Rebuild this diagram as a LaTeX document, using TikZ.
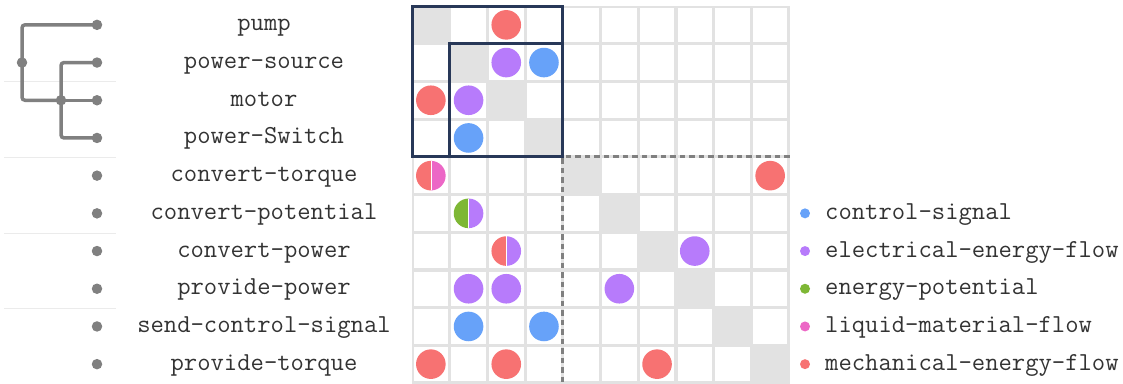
\documentclass[tikz,border=0pt]{standalone}
\usepackage{fontspec}
\definecolor{cred}{HTML}{F77272}
\definecolor{cpur}{HTML}{B77BFB}
\definecolor{cblue}{HTML}{67A2F9}
\definecolor{cgreen}{HTML}{7EB735}
\definecolor{cpink}{HTML}{EC67C6}
\definecolor{navy}{HTML}{283858}
\definecolor{gridgray}{HTML}{E2E2E2}
\definecolor{treegray}{HTML}{808080}
\definecolor{txt}{HTML}{333333}
\newcommand{\cx}[1]{412+37.7*#1+18.85}
\newcommand{\cy}[1]{6+37.7*#1+18.85}
\newcommand{\fdot}[3]{\fill[#3] ({\cx{#2}},{\cy{#1}}) circle[radius=14.8];}
\newcommand{\hdot}[4]{%
  \begin{scope}\clip ({\cx{#2}-16},{\cy{#1}-16}) rectangle ({\cx{#2}},{\cy{#1}+16});
  \fill[#3] ({\cx{#2}},{\cy{#1}}) circle[radius=14.8];\end{scope}
  \begin{scope}\clip ({\cx{#2}},{\cy{#1}-16}) rectangle ({\cx{#2}+16},{\cy{#1}+16});
  \fill[#4] ({\cx{#2}},{\cy{#1}}) circle[radius=14.8];\end{scope}
  \draw[white,line width=0.6] ({\cx{#2}},{\cy{#1}-14.8}) -- ({\cx{#2}},{\cy{#1}+14.8});}
\begin{document}
\begin{tikzpicture}[x=1pt,y=-1pt,
  lbl/.style={font=\ttfamily\fontsize{25.9}{28}\selectfont, text=txt, inner sep=0pt, anchor=base},
  leg/.style={font=\ttfamily\fontsize{25.9}{28}\selectfont, text=txt, inner sep=0pt, anchor=base west},
  leafdot/.style={circle, fill=treegray, inner sep=0pt, minimum size=10.5pt},
  treeline/.style={draw=treegray, line width=3.5pt, rounded corners=3pt},
  sep/.style={draw=gridgray!70, line width=0.8pt}]
\useasboundingbox (0,0) rectangle (1123,383);
% separator lines
\foreach \yy in {81,157,233,308} \draw[sep] (4,\yy) -- (116,\yy);
% labels
\foreach \n/\t [count=\i from 0] in {a/pump,b/power-source,c/motor,d/power-Switch,e/convert-torque,f/convert-potential,g/convert-power,h/provide-power,k/send-control-signal,m/provide-torque}{
  \node[lbl] (lab\n) at (264,{\cy{\i}+6}) {\t};
  \coordinate (L\i) at (97,{\cy{\i}});
}
% tree
\coordinate (R) at (22,{\cy{1}});
\coordinate (S) at (61,{\cy{2}});
\draw[treeline] (L0) -| (R) |- (S);
\draw[treeline] (L1) -| (S) |- (L3);
\draw[treeline] (S) -- (L2);
\node[leafdot] at (R) {};
\node[leafdot] at (S) {};
\foreach \i in {0,...,9} \node[leafdot] (dot\i) at (L\i) {};
% grid
\fill[gridgray] (412,6) rectangle (789.5,383.5);
\foreach \r in {0,...,9}{
  \foreach \c in {0,...,9}{
    \ifnum\r=\c\relax\else
      \fill[white] ({412+37.7*\c+1.6},{6+37.7*\r+1.6}) rectangle ++(34.5,34.5);
    \fi
  }
}
% entries
\fdot{0}{2}{cred}
\fdot{1}{2}{cpur}\fdot{1}{3}{cblue}
\fdot{2}{0}{cred}\fdot{2}{1}{cpur}
\fdot{3}{1}{cblue}
\hdot{4}{0}{cred}{cpink}\fdot{4}{9}{cred}
\hdot{5}{1}{cgreen}{cpur}
\hdot{6}{2}{cred}{cpur}\fdot{6}{7}{cpur}
\fdot{7}{1}{cpur}\fdot{7}{2}{cpur}\fdot{7}{5}{cpur}
\fdot{8}{1}{cblue}\fdot{8}{3}{cblue}
\fdot{9}{0}{cred}\fdot{9}{2}{cred}\fdot{9}{6}{cred}
% cluster boxes
\draw[navy, line width=3pt] (412,6) rectangle (562.8,156.8);
\draw[navy, line width=3pt] (449.7,43.7) rectangle (562.8,156.8);
\draw[treegray, line width=3pt, dash pattern=on 5.5pt off 4pt] (789.5,156.8) -- (562.8,156.8) -- (562.8,383.5);
% legend
\foreach \t/\c [count=\i from 5] in {control-signal/cblue,electrical-energy-flow/cpur,energy-potential/cgreen,liquid-material-flow/cpink,mechanical-energy-flow/cred}{
  \fill[\c] (805,{\cy{\i}}) circle[radius=5];
  \node[leg] (leg\i) at (825,{\cy{\i}+6}) {\t};
}
\end{tikzpicture}
\end{document}
